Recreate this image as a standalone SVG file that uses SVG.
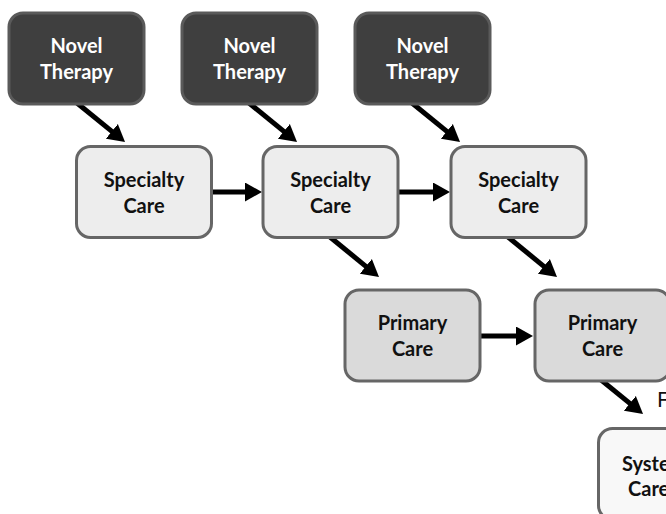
<svg xmlns="http://www.w3.org/2000/svg" width="666" height="514" viewBox="0 0 666 514">
  <style>
    .box { stroke-width: 3; }
    .novel rect { fill: #3f3f3f; stroke: #5a5a5a; }
    .spec rect { fill: #ededed; stroke: #666666; }
    .prim rect { fill: #dadada; stroke: #666666; }
    .sys rect { fill: #f8f8f8; stroke: #666666; }
    .lbl { font-family: Lato, "Liberation Sans", sans-serif; font-weight: bold; font-size: 20px; text-anchor: middle; fill: #111111; }
    .novel .lbl { fill: #ffffff; }
    .conn line { stroke: #000000; stroke-width: 5; }
    .plain { font-family: Lato, "Liberation Sans", sans-serif; font-size: 21px; fill: #111111; }
  </style>
  <defs>
    <marker id="ah" markerUnits="userSpaceOnUse" markerWidth="17" markerHeight="19" refX="2" refY="9.5" orient="auto" viewBox="0 0 17 19">
      <path d="M0,0 L17,9.5 L0,19 z" fill="#000000"/>
    </marker>
  </defs>

  <g id="connectors" class="conn">
    <line x1="77" y1="103" x2="113.4" y2="132.6" marker-end="url(#ah)"/>
    <line x1="249" y1="103" x2="285.4" y2="132.6" marker-end="url(#ah)"/>
    <line x1="412" y1="103" x2="448.4" y2="132.6" marker-end="url(#ah)"/>
    <line x1="212" y1="192" x2="247" y2="192" marker-end="url(#ah)"/>
    <line x1="398" y1="192" x2="435" y2="192" marker-end="url(#ah)"/>
    <line x1="330" y1="237" x2="367.4" y2="267.6" marker-end="url(#ah)"/>
    <line x1="508" y1="237" x2="545.4" y2="267.6" marker-end="url(#ah)"/>
    <line x1="481" y1="336" x2="518" y2="336" marker-end="url(#ah)"/>
    <line x1="595" y1="375" x2="631.4" y2="404.6" marker-end="url(#ah)"/>
  </g>

  <g id="novel1" class="novel">
    <rect class="box" x="9" y="13" width="135" height="91" rx="14"/>
    <text class="lbl" x="76.5" y="52.5">Novel</text>
    <text class="lbl" x="76.5" y="78.5">Therapy</text>
  </g>
  <g id="novel2" class="novel">
    <rect class="box" x="182" y="13" width="135" height="91" rx="14"/>
    <text class="lbl" x="249.5" y="52.5">Novel</text>
    <text class="lbl" x="249.5" y="78.5">Therapy</text>
  </g>
  <g id="novel3" class="novel">
    <rect class="box" x="355" y="13" width="135" height="91" rx="14"/>
    <text class="lbl" x="422.5" y="52.5">Novel</text>
    <text class="lbl" x="422.5" y="78.5">Therapy</text>
  </g>

  <g id="spec1" class="spec">
    <rect class="box" x="76.5" y="146.5" width="135" height="91" rx="14"/>
    <text class="lbl" x="144" y="186.5">Specialty</text>
    <text class="lbl" x="144" y="212.5">Care</text>
  </g>
  <g id="spec2" class="spec">
    <rect class="box" x="263" y="146.5" width="135" height="91" rx="14"/>
    <text class="lbl" x="330.5" y="186.5">Specialty</text>
    <text class="lbl" x="330.5" y="212.5">Care</text>
  </g>
  <g id="spec3" class="spec">
    <rect class="box" x="451" y="146.5" width="135" height="91" rx="14"/>
    <text class="lbl" x="518.5" y="186.5">Specialty</text>
    <text class="lbl" x="518.5" y="212.5">Care</text>
  </g>

  <g id="prim1" class="prim">
    <rect class="box" x="345" y="290" width="135" height="91" rx="14"/>
    <text class="lbl" x="412.5" y="330">Primary</text>
    <text class="lbl" x="412.5" y="356">Care</text>
  </g>
  <g id="prim2" class="prim">
    <rect class="box" x="535" y="290" width="135" height="91" rx="14"/>
    <text class="lbl" x="602.5" y="330">Primary</text>
    <text class="lbl" x="602.5" y="356">Care</text>
  </g>

  <g id="sys" class="sys">
    <rect class="box" x="598.5" y="428.5" width="135" height="91" rx="14"/>
    <text class="lbl" x="622" y="471" style="text-anchor:start">Systems</text>
    <text class="lbl" x="628" y="496" style="text-anchor:start">Care</text>
  </g>

  <text class="plain" x="657" y="407">F</text>
</svg>
